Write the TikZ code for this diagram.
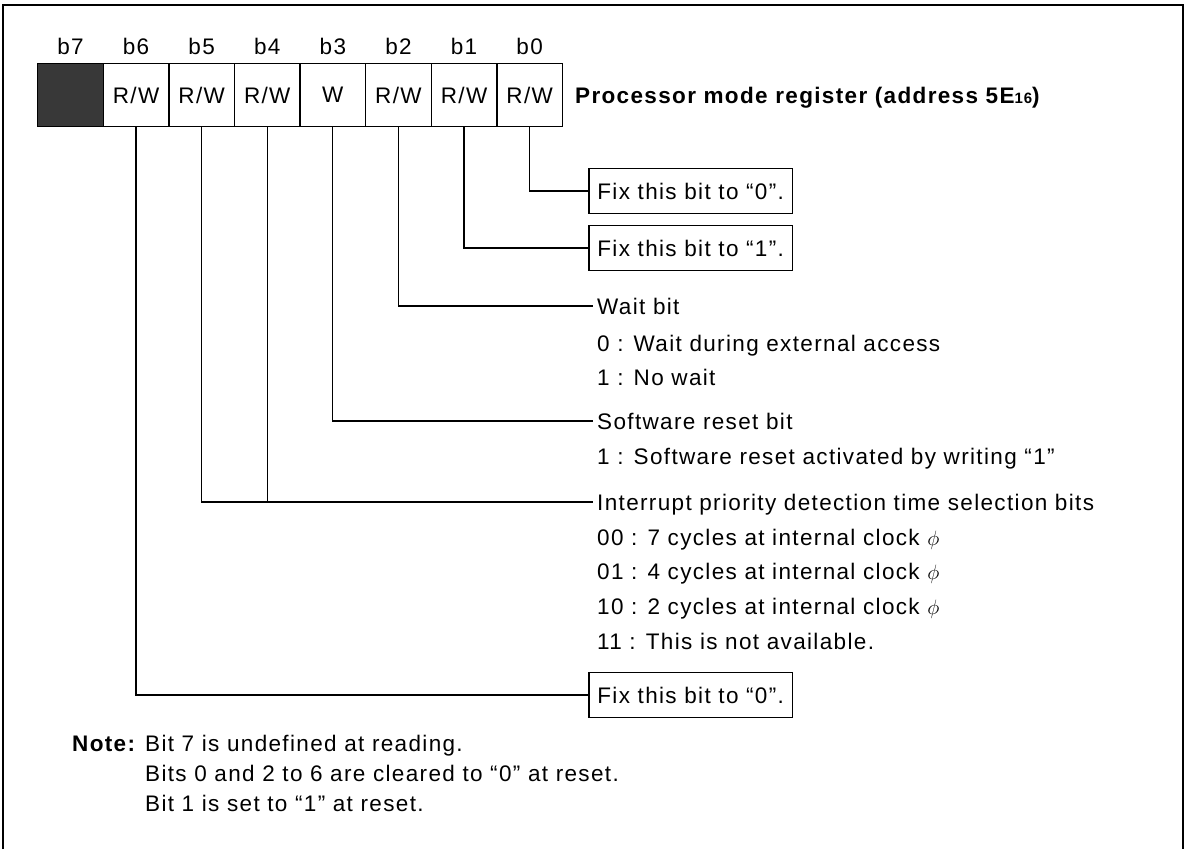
\documentclass[tikz,border=0pt]{standalone}
\usepackage{fontspec}
\setmainfont{Liberation Sans}[LetterSpace=6]
\begin{document}
\begin{tikzpicture}[x=1pt,y=-1pt,
  every node/.style={font=\fontsize{22.5}{26}\selectfont, inner sep=0pt},
  cell/.style={draw, line width=1.3pt, minimum width=65.6pt, minimum height=63pt, anchor=north west},
  bitlbl/.style={anchor=center},
  txt/.style={anchor=base west, text height=16pt, text depth=0pt, inner xsep=4pt},
  fixbox/.style={draw, line width=1.8pt, anchor=west, inner xsep=8.5pt, minimum height=45pt, text height=16pt, text depth=0pt},
  conn/.style={line width=1.2pt}
]
\useasboundingbox (0,0) rectangle (1190,849);
% outer frame (cut at the bottom)
\draw[line width=2pt] (3,849) -- (3,5) -- (1183,5) -- (1183,849);

% register cells
\node[cell, fill=black!78] (c7) at (37,63) {};
\node[cell] (c6) at (102.6,63) {R/W};
\node[cell] (c5) at (168.2,63) {R/W};
\node[cell] (c4) at (233.8,63) {R/W};
\node[cell] (c3) at (299.4,63) {W};
\node[cell] (c2) at (365,63) {R/W};
\node[cell] (c1) at (430.6,63) {R/W};
\node[cell] (c0) at (496.2,63) {R/W};

% bit labels
\path (c7.north) ++(0,-17) node[bitlbl] (l7) {b7};
\path (c6.north) ++(0,-17) node[bitlbl] (l6) {b6};
\path (c5.north) ++(0,-17) node[bitlbl] (l5) {b5};
\path (c4.north) ++(0,-17) node[bitlbl] (l4) {b4};
\path (c3.north) ++(0,-17) node[bitlbl] (l3) {b3};
\path (c2.north) ++(0,-17) node[bitlbl] (l2) {b2};
\path (c1.north) ++(0,-17) node[bitlbl] (l1) {b1};
\path (c0.north) ++(0,-17) node[bitlbl] (l0) {b0};

% title
\node[anchor=base west, font=\fontsize{22.5}{26}\selectfont\bfseries] (title) at (575,103)
  {Processor mode register (address 5E{\fontsize{15}{15}\selectfont 16})};

% fix boxes
\node[fixbox] (fix0) at (588,191) {Fix this bit to “0”.};
\node[fixbox] (fix1) at (588,248) {Fix this bit to “1”.};
\node[fixbox] (fix6) at (588,695) {Fix this bit to “0”.};

% wait bit
\node[txt] (wait)  at (593,314) {Wait bit};
\node[txt] (wait0) at (593,351) {0 : Wait during external access};
\node[txt] (wait1) at (593,385) {1 : No wait};

% software reset
\node[txt] (srst)  at (593,429) {Software reset bit};
\node[txt] (srst1) at (593,464) {1 : Software reset activated by writing “1”};

% interrupt priority
\node[txt] (intr)   at (593,510) {Interrupt priority detection time selection bits};
\node[txt] (intr00) at (593,545) {00 : 7 cycles at internal clock $\phi$};
\node[txt] (intr01) at (593,579) {01 : 4 cycles at internal clock $\phi$};
\node[txt] (intr10) at (593,614) {10 : 2 cycles at internal clock $\phi$};
\node[txt] (intr11) at (593,649) {11 : This is not available.};

% connectors
\draw[conn] (c0.south) |- (fix0.west);
\draw[conn] (c1.south) |- (fix1.west);
\draw[conn] (c2.south) |- (wait.west);
\draw[conn] (c3.south) |- (srst.west);
\draw[conn] (c5.south) |- (intr.west);
\draw[conn] (c4.south) -- (c4.south |- intr.west);
\draw[conn] (c6.south) |- (fix6.west);

% note
\node[anchor=base west, font=\fontsize{22.5}{26}\selectfont\bfseries] (note) at (72,751) {Note:};
\node[anchor=base west] (n1) at (145,751) {Bit 7 is undefined at reading.};
\node[anchor=base west] (n2) at (145,781) {Bits 0 and 2 to 6 are cleared to “0” at reset.};
\node[anchor=base west] (n3) at (145,811) {Bit 1 is set to “1” at reset.};
\end{tikzpicture}
\end{document}
